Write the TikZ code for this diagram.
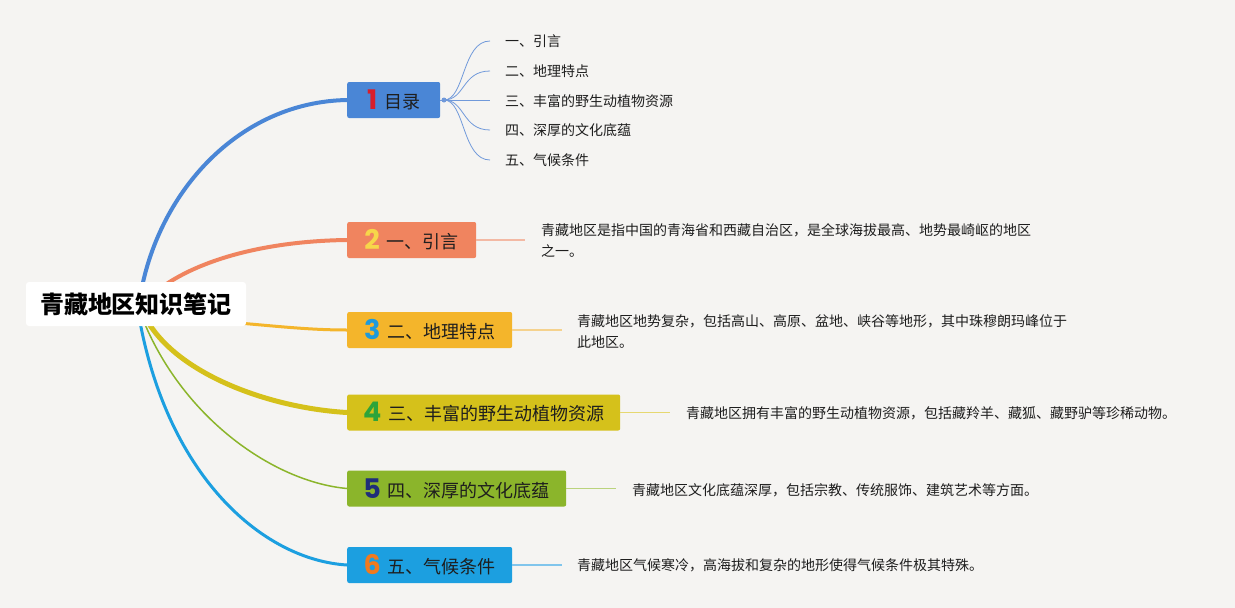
\documentclass[tikz,border=0pt]{standalone}
\usepackage{fontspec}
\setmainfont{Noto Sans CJK SC}
\newfontfamily\cjk{Noto Sans CJK SC}
\newfontfamily\numfont{Poppins}
\definecolor{bg}{HTML}{F5F4F2}
\definecolor{cA}{HTML}{4A86D6}
\definecolor{cB}{HTML}{F0845F}
\definecolor{cC}{HTML}{F4B52B}
\definecolor{cD}{HTML}{D5C11B}
\definecolor{cE}{HTML}{8BB52B}
\definecolor{cF}{HTML}{1C9FE0}
\definecolor{lB}{HTML}{F3B9A4}
\definecolor{lC}{HTML}{F5D28E}
\definecolor{lD}{HTML}{E6D870}
\definecolor{lE}{HTML}{BAD37D}
\definecolor{lF}{HTML}{80C5EC}
\definecolor{subl}{HTML}{7099DA}
\definecolor{nA}{HTML}{D81E2B}
\definecolor{nB}{HTML}{F7D64A}
\definecolor{nC}{HTML}{1E9ADB}
\definecolor{nD}{HTML}{2EA43A}
\definecolor{nE}{HTML}{1F2E7A}
\definecolor{nF}{HTML}{F07A1E}
\definecolor{txt}{HTML}{1E1E1E}
\tikzset{
  branchbox/.style={rectangle, rounded corners=2pt, minimum height=36pt, inner sep=0pt, anchor=west, text=txt, font=\cjk\fontsize{18}{20}\selectfont},
  desc/.style={anchor=west, align=left, inner sep=0pt, text=txt, font=\cjk\fontsize{14}{21}\selectfont},
  subt/.style={anchor=west, inner sep=0pt, text=txt, font=\cjk\fontsize{14}{16}\selectfont},
}
\newcommand{\dig}[2]{\raisebox{-1pt}{\textcolor{#1}{\numfont\bfseries\fontsize{27}{27}\selectfont #2}}\hspace{7pt}}
\begin{document}
\begin{tikzpicture}[x=1pt,y=-1pt]
\fill[bg] (0,0) rectangle (1235,608);
\useasboundingbox (0,0) rectangle (1235,608);

% branch boxes
\node[branchbox, fill=cA, minimum width=93pt] (b1) at (347,100) {\dig{nA}{1}目录};
\node[branchbox, fill=cB, minimum width=129pt] (b2) at (347,240) {\dig{nB}{2}一、引言};
\node[branchbox, fill=cC, minimum width=165pt] (b3) at (347,330) {\dig{nC}{3}二、地理特点};
\node[branchbox, fill=cD, minimum width=273pt] (b4) at (347,412.5) {\dig{nD}{4}三、丰富的野生动植物资源};
\node[branchbox, fill=cE, minimum width=219pt] (b5) at (347,488.5) {\dig{nE}{5}四、深厚的文化底蕴};
\node[branchbox, fill=cF, minimum width=165pt] (b6) at (347,565) {\dig{nF}{6}五、气候条件};

% curve origins
\coordinate (o1) at (141,292);
\coordinate (o2) at (158,290);
\coordinate (o3) at (200,320);
\coordinate (o4) at (148,322);
\coordinate (o5) at (144,322);
\coordinate (o6) at (140,322);

\draw[cA, line width=4pt] (o1) .. controls (160,190) and (240,102) .. (b1.west);
\draw[cB, line width=4pt] (o2) .. controls (200,258) and (270,241) .. (b2.west);
\draw[cC, line width=3pt] (o3) .. controls (260,324) and (300,330) .. (b3.west);
\draw[cD, line width=5pt] (o4) .. controls (180,375) and (270,408) .. (b4.west);
\draw[cE, line width=1.5pt] (o5) .. controls (185,420) and (275,482) .. (b5.west);
\draw[cF, line width=3pt] (o6) .. controls (170,480) and (265,560) .. (b6.west);

% root
\node[rectangle, rounded corners=3pt, fill=white, minimum width=220pt, minimum height=44pt, inner sep=0pt, font=\cjk\bfseries\fontsize{24}{26}\selectfont, text=black] (root) at (136,304) {青藏地区知识笔记};

% subtopics of b1
\node[subt] (s1) at (505,41) {一、引言};
\node[subt] (s2) at (505,71) {二、地理特点};
\node[subt] (s3) at (505,101) {三、丰富的野生动植物资源};
\node[subt] (s4) at (505,130) {四、深厚的文化底蕴};
\node[subt] (s5) at (505,160) {五、气候条件};
\coordinate (j) at (444,100);
\coordinate (e1) at (490,41);
\coordinate (e2) at (490,71);
\coordinate (e3) at (490,100);
\coordinate (e4) at (490,130);
\coordinate (e5) at (490,160);
\draw[subl, line width=0.8pt] (b1.east) -- (j);
\foreach \k in {1,2,4,5} {
  \draw[subl, line width=0.8pt] (j) .. controls (465,100) and (462,0|-e\k) .. (e\k);
}
\draw[subl, line width=0.8pt] (j) -- (e3);
\fill[subl] (j) circle (2.5pt);

% descriptions
\node[desc] (d2) at (541,240.5) {青藏地区是指中国的青海省和西藏自治区，是全球海拔最高、地势最崎岖的地区\\之一。};
\node[desc] (d3) at (577,331.5) {青藏地区地势复杂，包括高山、高原、盆地、峡谷等地形，其中珠穆朗玛峰位于\\此地区。};
\node[desc] (d4) at (686,413) {青藏地区拥有丰富的野生动植物资源，包括藏羚羊、藏狐、藏野驴等珍稀动物。};
\node[desc] (d5) at (632,490) {青藏地区文化底蕴深厚，包括宗教、传统服饰、建筑艺术等方面。};
\node[desc] (d6) at (577,565.5) {青藏地区气候寒冷，高海拔和复杂的地形使得气候条件极其特殊。};

\coordinate (t2) at (525,240);
\coordinate (t3) at (562,330);
\coordinate (t4) at (670,412.5);
\coordinate (t5) at (616,488.5);
\coordinate (t6) at (562,565);
\draw[lB, line width=1.5pt] (b2.east) -- (t2);
\draw[lC, line width=1.5pt] (b3.east) -- (t3);
\draw[lD, line width=1.5pt] (b4.east) -- (t4);
\draw[lE, line width=1.5pt] (b5.east) -- (t5);
\draw[lF, line width=1.5pt] (b6.east) -- (t6);
\end{tikzpicture}
\end{document}
